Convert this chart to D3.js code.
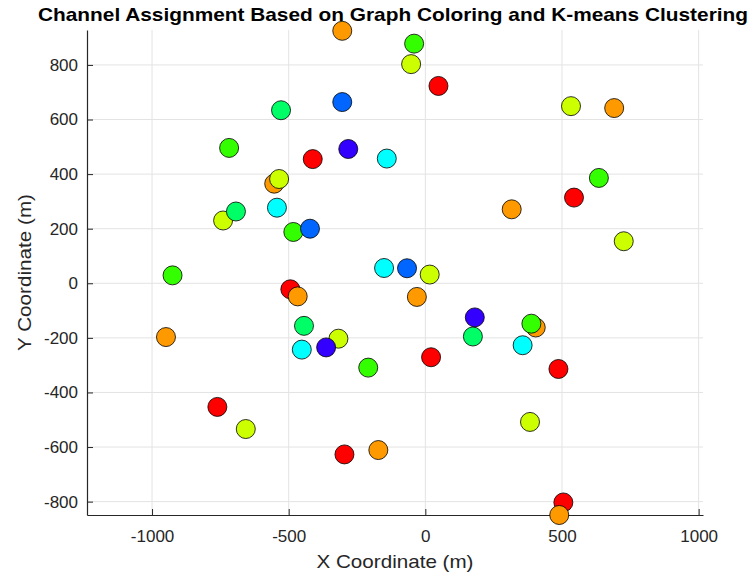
<!DOCTYPE html>
<html><head><meta charset="utf-8">
<script src="https://cdn.jsdelivr.net/npm/d3@7"></script>
<style>body{margin:0;background:#fff}</style>
</head><body>
<svg id="c" width="751" height="578"></svg>
<script>
// channel index: 0 red,1 orange,2 yellow-green,3 green,4 spring,5 cyan,6 azure,7 violet
const channelColors = ["#ff0000","#ff9900","#ccff00","#33ff00","#00ff66","#00ffff","#0066ff","#3300ff"];
const xVals = [-304,-41,-52,48,-304,-528,533,691,-718,-282,-412,-141,-535,-553,635,544,316,-543,-693,-740,-483,-422,726,-925,-151,-67,16,-494,-467,-31,-444,181,174,388,404,-452,-363,-318,-949,356,21,-209,487,-761,383,-657,-296,-172,505,490];
const yVals = [925,878,803,723,664,634,649,642,496,492,455,457,382,365,386,314,271,277,263,230,188,200,154,29,56,55,32,-22,-48,-50,-156,-125,-195,-148,-162,-243,-235,-203,-197,-227,-271,-309,-314,-453,-508,-534,-627,-611,-803,-849];
const channels = [1,3,2,0,6,4,2,1,3,7,0,5,2,1,3,0,1,5,4,2,3,6,2,3,5,6,2,0,1,1,4,7,4,3,1,5,7,2,1,5,0,3,0,0,2,2,0,1,0,1];
const xTicks = [-1000,-500,0,500,1000];
const yTicks = [-800,-600,-400,-200,0,200,400,600,800];
const xDomain = [-1238, 1016];
const yDomain = [-849, 928];

const svg = d3.select("#c");
const L = 87, R = 703, T = 30, B = 515;
const x = d3.scaleLinear().domain(xDomain).range([L, R]);
const y = d3.scaleLinear().domain(yDomain).range([B, T]);
const axisColor = "#262626";
const fmt = d => String(d);

// grid
svg.append("g").selectAll("line").data(xTicks).join("line")
  .attr("x1", d => x(d)).attr("x2", d => x(d)).attr("y1", T).attr("y2", B)
  .attr("stroke", "#e3e3e3").attr("stroke-width", 1);
svg.append("g").selectAll("line").data(yTicks).join("line")
  .attr("y1", d => y(d)).attr("y2", d => y(d)).attr("x1", L).attr("x2", R)
  .attr("stroke", "#e3e3e3").attr("stroke-width", 1);

// axes
const xa = svg.append("g").attr("transform", `translate(0,${B})`)
  .call(d3.axisBottom(x).tickValues(xTicks).tickSizeInner(-6).tickSizeOuter(0).tickPadding(15).tickFormat(fmt));
const ya = svg.append("g").attr("transform", `translate(${L},0)`)
  .call(d3.axisLeft(y).tickValues(yTicks).tickSizeInner(-6).tickSizeOuter(0).tickPadding(8).tickFormat(fmt));
[xa, ya].forEach(a => {
  a.select(".domain").attr("stroke", axisColor).attr("stroke-width", 1.2);
  a.selectAll(".tick line").attr("stroke", axisColor).attr("stroke-width", 1);
  a.selectAll(".tick text").attr("fill", axisColor).attr("font-size", 17)
    .attr("font-family", "Liberation Sans, Arial, sans-serif");
});
xa.selectAll(".tick text").attr("dy", "0.71em");
ya.selectAll(".tick text").attr("dx", "-1px");

// points, drawn in channel order
const pts = xVals.map((v, i) => ({x: v, y: yVals[i], c: channels[i]}))
  .sort((a, b) => a.c - b.c);
svg.append("g").selectAll("circle").data(pts).join("circle")
  .attr("cx", d => x(d.x)).attr("cy", d => y(d.y)).attr("r", 9.5)
  .attr("fill", d => channelColors[d.c]).attr("stroke", "#000").attr("stroke-width", 0.8);

// labels
svg.append("text").attr("x", 393).attr("y", 21).attr("text-anchor", "middle")
  .attr("font-family", "Liberation Sans, Arial, sans-serif").attr("font-weight", "bold")
  .attr("font-size", 18.5).attr("textLength", 710).attr("lengthAdjust", "spacingAndGlyphs")
  .text("Channel Assignment Based on Graph Coloring and K-means Clustering");
svg.append("text").attr("x", 395).attr("y", 568).attr("text-anchor", "middle")
  .attr("font-family", "Liberation Sans, Arial, sans-serif").attr("font-size", 19)
  .attr("fill", axisColor).attr("textLength", 157).attr("lengthAdjust", "spacingAndGlyphs")
  .text("X Coordinate (m)");
svg.append("text").attr("transform", `translate(31,${(T + B) / 2}) rotate(-90)`).attr("text-anchor", "middle")
  .attr("font-family", "Liberation Sans, Arial, sans-serif").attr("font-size", 19)
  .attr("fill", axisColor).attr("textLength", 157).attr("lengthAdjust", "spacingAndGlyphs")
  .text("Y Coordinate (m)");
</script>
</body></html>
